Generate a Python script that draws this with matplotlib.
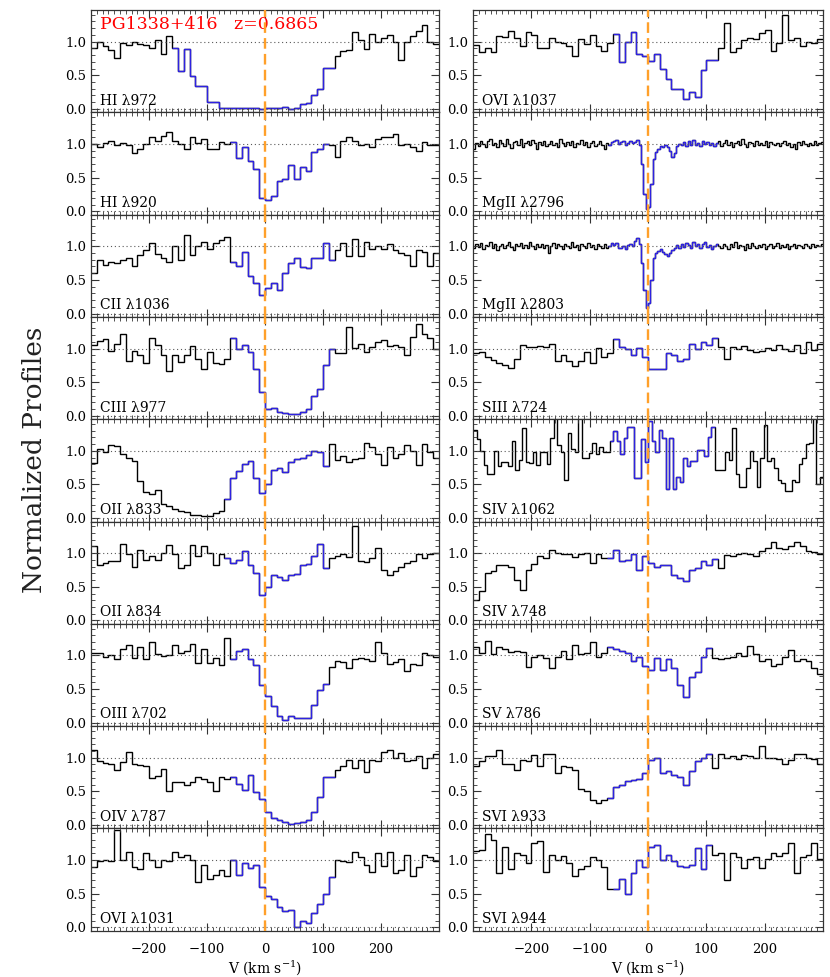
import numpy as np
import matplotlib
matplotlib.use("Agg")
import matplotlib.pyplot as plt
from matplotlib.ticker import MultipleLocator, FixedLocator

plt.rcParams['font.family'] = ['DejaVu Serif']
plt.rcParams['mathtext.fontset'] = 'dejavuserif'

# normalized flux, 10 km/s bins from -300 to 300 (MgII: 4 km/s, SIV 1062: 6 km/s)
hi972 = [0.91, 1.0, 0.93, 0.88, 0.75, 0.98, 0.95, 1.0, 0.97, 0.95,
         0.91, 1.02, 0.81, 1.08, 0.9, 0.57, 0.89, 0.49, 0.34, 0.34,
         0.10, 0.10, 0.02, 0.02, 0.01, 0.02, 0.01, 0.02, 0.01, 0.0,
         0.01, 0.01, 0.02, 0.03, 0.0, 0.01, 0.08, 0.09, 0.2, 0.3,
         0.61, 0.61, 0.79, 0.86, 0.87, 1.14, 1.03, 0.89, 1.11, 1.0,
         1.05, 1.1, 1.0, 0.72, 1.0, 1.08, 1.16, 1.24, 1.0, 0.96]
hi920 = [1.0, 0.95, 1.02, 1.04, 0.98, 1.02, 0.99, 0.87, 0.93, 1.0,
         1.1, 1.05, 1.12, 1.18, 1.05, 1.0, 0.93, 1.11, 1.02, 1.08,
         0.93, 0.93, 1.03, 1.0, 1.03, 0.79, 0.95, 0.75, 0.63, 0.2,
         0.17, 0.23, 0.45, 0.48, 0.68, 0.48, 0.65, 0.6, 0.88, 0.92,
         1.0, 0.98, 0.8, 1.05, 1.1, 1.05, 0.98, 1.0, 0.95, 1.08,
         1.1, 1.1, 1.15, 0.98, 1.0, 0.95, 0.9, 1.03, 0.98, 0.98]
cii1036 = [0.6, 0.8, 0.72, 0.77, 0.75, 0.79, 0.82, 0.7, 0.87, 0.94,
           1.05, 0.88, 0.82, 0.77, 1.0, 0.79, 1.16, 0.87, 1.01, 1.06,
           0.96, 1.05, 1.09, 1.14, 0.77, 0.7, 0.91, 0.56, 0.45, 0.27,
           0.38, 0.45, 0.35, 0.6, 0.75, 0.82, 0.69, 0.68, 0.82, 0.82,
           1.05, 0.8, 0.94, 1.05, 0.85, 1.11, 0.85, 1.06, 0.96, 1.01,
           0.96, 1.04, 0.94, 0.9, 0.87, 0.71, 0.94, 0.91, 0.7, 0.9]
ciii977 = [1.05, 1.11, 1.14, 0.97, 1.07, 1.22, 0.82, 0.97, 0.91, 0.79,
           1.15, 1.05, 0.9, 0.66, 0.9, 0.8, 0.91, 1.04, 0.85, 0.7,
           0.95, 0.79, 0.77, 0.85, 1.15, 1.0, 1.05, 0.95, 0.7, 0.36,
           0.1, 0.12, 0.05, 0.04, 0.03, 0.03, 0.06, 0.1, 0.3, 0.4,
           0.75, 1.0, 0.94, 0.94, 1.32, 1.01, 1.06, 0.95, 1.02, 1.1,
           1.12, 1.04, 1.05, 1.02, 0.9, 1.17, 1.37, 1.21, 1.16, 0.99]
oii833 = [0.82, 1.02, 0.99, 1.09, 1.07, 0.95, 0.9, 0.85, 0.55, 0.39,
          0.36, 0.42, 0.21, 0.18, 0.14, 0.11, 0.09, 0.04, 0.05, 0.03,
          0.03, 0.08, 0.1, 0.29, 0.6, 0.7, 0.8, 0.85, 0.6, 0.37,
          0.5, 0.72, 0.75, 0.69, 0.84, 0.88, 0.89, 0.94, 1.0, 0.98,
          0.77, 1.1, 0.86, 0.93, 0.84, 0.88, 0.9, 1.11, 1.06, 0.95,
          0.79, 1.05, 0.9, 0.95, 1.08, 1.0, 0.79, 1.1, 0.98, 0.9]
oii834 = [1.1, 0.83, 0.85, 0.88, 0.88, 1.13, 0.98, 0.8, 1.05, 0.9,
          0.95, 0.9, 1.0, 1.12, 0.98, 0.78, 0.83, 1.12, 0.95, 1.1,
          1.0, 0.83, 0.99, 0.93, 0.85, 0.9, 1.03, 0.83, 0.7, 0.38,
          0.5, 0.68, 0.64, 0.6, 0.68, 0.69, 0.82, 0.84, 0.95, 1.13,
          0.78, 0.93, 0.95, 0.98, 0.94, 1.4, 0.88, 0.87, 0.93, 1.08,
          0.75, 0.67, 0.73, 0.8, 0.85, 0.88, 0.98, 0.93, 0.98, 1.0]
oiii702 = [1.04, 1.04, 0.98, 1.0, 0.94, 1.1, 1.16, 0.96, 1.12, 0.95,
           1.2, 1.02, 0.99, 1.0, 1.15, 1.03, 1.06, 1.17, 0.89, 1.1,
           0.89, 0.96, 0.86, 1.26, 0.94, 1.07, 1.1, 0.94, 0.86, 0.56,
           0.4, 0.25, 0.1, 0.04, 0.1, 0.07, 0.065, 0.07, 0.26, 0.49,
           0.57, 0.83, 0.92, 0.9, 0.81, 0.95, 0.96, 0.95, 0.92, 1.2,
           1.04, 0.87, 0.9, 0.95, 0.77, 0.87, 0.86, 1.03, 1.01, 0.97]
oiv787 = [1.12, 0.95, 0.92, 0.9, 0.82, 0.93, 1.09, 0.9, 0.89, 0.87,
          0.7, 0.73, 0.84, 0.51, 0.64, 0.64, 0.6, 0.64, 0.72, 0.68,
          0.64, 0.5, 0.71, 0.69, 0.72, 0.61, 0.52, 0.75, 0.49, 0.39,
          0.2, 0.11, 0.08, 0.04, 0.01, 0.03, 0.05, 0.07, 0.2, 0.42,
          0.71, 0.71, 0.82, 0.88, 0.97, 0.85, 0.97, 0.79, 0.97, 0.95,
          1.09, 1.11, 1.0, 1.07, 0.95, 0.96, 1.02, 0.85, 1.0, 1.05]
ovi1031 = [0.9, 0.98, 1.0, 0.99, 1.45, 1.0, 1.12, 0.9, 0.86, 1.1,
           1.0, 0.9, 1.0, 0.98, 1.12, 1.05, 1.07, 1.0, 0.67, 0.92,
           0.72, 0.78, 0.85, 0.77, 1.0, 0.78, 0.95, 0.88, 0.92, 0.6,
           0.47, 0.42, 0.3, 0.25, 0.26, 0.0, 0.09, 0.07, 0.22, 0.35,
           0.5, 0.75, 1.0, 0.99, 0.97, 1.12, 1.05, 0.92, 0.82, 1.1,
           0.91, 1.12, 0.8, 0.85, 1.07, 0.77, 0.9, 1.07, 1.05, 0.98]
ovi1037 = [0.95, 0.85, 0.91, 0.85, 1.09, 1.07, 1.16, 1.05, 0.93, 1.15,
           1.1, 0.9, 0.91, 1.05, 0.99, 0.98, 0.94, 0.79, 1.04, 0.96,
           1.1, 0.94, 0.86, 0.98, 1.12, 0.69, 1.0, 1.15, 0.81, 0.78,
           0.71, 0.81, 0.59, 0.45, 0.29, 0.3, 0.15, 0.25, 0.18, 0.58,
           0.73, 0.73, 0.9, 1.28, 0.85, 0.91, 1.03, 1.05, 1.04, 1.13,
           1.17, 0.86, 0.98, 1.39, 1.03, 1.05, 0.93, 1.0, 0.98, 1.04]
mgii2796 = [0.93, 1.02, 0.97, 1.05, 1.0, 0.96, 1.04, 1.07, 0.98, 1.01,
            0.95, 1.06, 1.02, 0.97, 1.08, 1.0, 0.94, 1.03, 1.05, 0.99,
            1.07, 0.96, 1.02, 1.04, 0.98, 1.06, 1.01, 0.93, 1.03, 0.99,
            1.05, 0.97, 1.0, 1.04, 0.98, 1.02, 0.96, 1.08, 1.01, 0.97,
            1.03, 0.99, 1.05, 0.95, 1.02, 1.0, 1.06, 0.98, 1.03, 0.96,
            1.01, 1.04, 0.97, 1.0, 1.05, 0.98, 0.93, 1.02, 0.99, 1.03,
            1.04, 1.06, 1.0, 1.03, 1.05, 0.99, 1.02, 1.04, 1.01, 1.03,
            1.06, 0.98, 0.7, 0.25, 0.03, 0.06, 0.4, 0.78, 0.88, 0.93,
            0.97, 0.95, 0.98, 0.96, 0.9, 0.8, 0.86, 0.97, 1.0, 0.98,
            1.03, 0.97, 1.05, 0.99, 1.06, 0.98, 1.02, 0.97, 1.04, 1.0,
            1.03, 0.98, 1.02, 0.97, 1.01, 1.04, 0.97, 1.02, 1.06, 0.99,
            1.03, 0.95, 1.01, 1.05, 0.98, 1.07, 1.0, 0.96, 1.03, 1.01,
            0.97, 1.04, 0.99, 1.02, 0.98, 1.05, 0.96, 1.03, 1.0, 0.98,
            1.02, 0.97, 1.01, 1.04, 0.99, 1.02, 0.96, 1.0, 0.93, 1.03,
            0.98, 1.05, 1.0, 0.97, 1.02, 0.99, 1.04, 0.98, 1.01, 1.03]
mgii2803 = [0.97, 1.03, 0.99, 1.05, 0.96, 1.02, 1.0, 1.06, 0.98, 1.03,
            0.94, 1.01, 1.04, 0.97, 1.02, 1.07, 0.99, 0.95, 1.03, 1.0,
            1.05, 0.97, 1.02, 0.98, 1.06, 1.01, 0.96, 1.03, 0.99, 1.04,
            0.98, 1.02, 0.9, 1.01, 1.05, 0.97, 1.03, 1.0, 0.96, 1.04,
            1.01, 0.98, 1.06, 0.99, 1.02, 0.95, 1.03, 1.0, 0.97, 1.05,
            0.99, 1.02, 0.96, 1.04, 1.0, 0.98, 1.03, 0.97, 1.01, 1.05,
            1.02, 1.05, 0.98, 0.97, 1.0, 0.96, 1.02, 1.04, 1.0, 1.08,
            1.12, 1.04, 0.75, 0.35, 0.08, 0.15, 0.5, 0.82, 0.9, 0.93,
            0.96, 0.92, 0.88, 0.85, 0.9, 0.95, 0.98, 1.02, 0.97, 1.04,
            0.99, 1.05, 1.02, 0.98, 1.06, 1.0, 1.04, 0.97, 1.03, 1.07,
            0.99, 1.02, 0.96, 1.0, 1.03, 1.0, 0.97, 1.04, 1.01, 0.96,
            1.03, 0.99, 1.06, 0.98, 1.02, 1.0, 0.95, 1.03, 0.98, 1.05,
            1.01, 0.97, 1.02, 0.99, 1.04, 0.96, 1.01, 1.03, 0.98, 1.0,
            1.05, 0.97, 1.02, 0.99, 1.03, 0.96, 1.01, 1.04, 0.98, 1.02,
            1.0, 0.97, 1.03, 1.01, 0.98, 1.04, 0.99, 1.02, 1.0, 1.03]
siii724 = [0.93, 0.95, 0.88, 0.83, 0.78, 0.75, 0.71, 0.85, 1.05, 1.02,
           1.03, 1.04, 1.02, 1.07, 0.82, 0.9, 0.82, 0.74, 0.81, 0.95,
           0.79, 1.01, 0.88, 0.94, 1.14, 1.02, 0.99, 0.9, 1.01, 0.88,
           0.69, 0.69, 0.7, 0.93, 0.9, 0.82, 0.85, 1.06, 1.0, 1.1,
           1.05, 1.15, 1.02, 0.84, 1.03, 1.0, 1.04, 0.98, 0.95, 0.96,
           1.01, 0.98, 1.05, 1.0, 0.97, 1.05, 0.94, 1.1, 0.98, 1.07]
siv1062 = [1.31, 1.18, 1.0, 0.79, 0.65, 0.65, 1.0, 0.78, 0.84, 0.84,
           0.78, 1.15, 0.72, 0.87, 1.34, 0.84, 0.82, 0.99, 0.79, 0.99,
           0.99, 0.8, 1.19, 1.5, 1.09, 0.99, 0.57, 1.26, 1.02, 0.99,
           1.5, 0.9, 0.9, 0.97, 1.12, 0.95, 1.05, 0.99, 0.99, 1.14,
           1.29, 1.14, 0.95, 1.19, 1.35, 1.35, 0.6, 0.6, 1.18, 0.84,
           1.44, 1.14, 0.99, 1.31, 1.19, 0.44, 1.19, 0.44, 0.61, 0.54,
           0.89, 0.77, 0.85, 0.85, 1.01, 1.01, 0.93, 1.21, 1.36, 0.71,
           0.71, 0.71, 0.99, 0.87, 1.34, 0.65, 0.46, 0.46, 0.75, 1.0,
           0.85, 0.46, 0.89, 1.39, 0.85, 0.89, 0.74, 0.57, 0.52, 0.4,
           0.4, 0.57, 0.54, 0.81, 0.89, 1.1, 1.12, 1.5, 0.5, 0.61]
siv748 = [0.3, 0.43, 0.7, 0.73, 0.83, 0.82, 0.8, 0.6, 0.45, 0.75,
          0.84, 0.95, 0.93, 1.05, 1.0, 0.99, 0.98, 0.94, 0.98, 1.0,
          0.85, 0.98, 0.93, 0.93, 1.05, 0.88, 0.9, 0.98, 0.75, 0.96,
          0.85, 0.8, 0.83, 0.82, 0.68, 0.63, 0.58, 0.75, 0.78, 0.88,
          0.83, 0.92, 0.78, 0.97, 0.95, 0.98, 1.0, 0.98, 0.96, 1.03,
          1.08, 1.16, 1.08, 1.06, 1.1, 1.17, 1.1, 1.03, 1.01, 0.99]
sv786 = [1.12, 1.04, 1.21, 1.02, 1.12, 1.1, 1.05, 1.06, 1.05, 0.83,
         0.98, 1.01, 0.96, 0.82, 0.97, 1.06, 0.94, 1.16, 1.02, 1.04,
         1.2, 0.97, 1.04, 1.12, 1.1, 1.06, 1.04, 0.92, 0.97, 0.85,
         0.79, 0.96, 0.79, 0.94, 0.82, 0.56, 0.38, 0.68, 0.76, 0.98,
         1.11, 0.96, 0.94, 0.96, 0.98, 1.03, 0.99, 1.14, 1.02, 0.92,
         0.95, 0.85, 0.88, 0.97, 1.08, 0.91, 0.94, 0.91, 0.82, 0.73]
svi933 = [0.88, 0.95, 1.02, 1.02, 1.11, 0.91, 0.91, 0.82, 0.97, 0.95,
          1.04, 0.87, 1.05, 1.06, 0.78, 0.87, 0.86, 0.82, 0.54, 0.5,
          0.37, 0.32, 0.37, 0.4, 0.57, 0.6, 0.66, 0.67, 0.68, 0.78,
          0.96, 0.99, 0.78, 0.81, 0.75, 0.72, 0.6, 0.8, 0.95, 1.0,
          1.05, 0.85, 1.05, 1.0, 1.02, 0.98, 1.04, 1.02, 1.0, 1.17,
          1.0, 1.0, 0.98, 0.9, 0.96, 1.06, 1.06, 1.0, 0.98, 0.9]
svi944 = [1.13, 1.15, 1.39, 1.3, 0.8, 1.2, 0.87, 1.1, 1.07, 0.96,
          1.25, 1.28, 0.82, 1.07, 1.0, 1.06, 0.95, 0.76, 0.87, 0.91,
          1.05, 1.0, 0.9, 0.57, 0.57, 0.72, 0.5, 0.8, 1.0, 0.9,
          1.2, 1.23, 1.0, 1.07, 0.98, 0.91, 0.9, 0.93, 1.18, 0.86,
          1.22, 1.08, 1.1, 0.71, 1.1, 1.05, 0.88, 1.02, 1.05, 0.88,
          1.02, 1.1, 1.06, 1.1, 1.25, 0.8, 1.05, 1.07, 1.26, 1.02]

left_names = ["HI λ972", "HI λ920", "CII λ1036", "CIII λ977", "OII λ833",
              "OII λ834", "OIII λ702", "OIV λ787", "OVI λ1031"]
right_names = ["OVI λ1037", "MgII λ2796", "MgII λ2803", "SIII λ724", "SIV λ1062",
               "SIV λ748", "SV λ786", "SVI λ933", "SVI λ944"]
left_flux = [hi972, hi920, cii1036, ciii977, oii833, oii834, oiii702, oiv787, ovi1031]
right_flux = [ovi1037, mgii2796, mgii2803, siii724, siv1062, siv748, sv786, svi933, svi944]
# velocity range of the absorption component (drawn in blue)
left_comp = [(-165, 125), (-60, 115), (-65, 118), (-62, 120), (-69, 115),
             (-68, 110), (-60, 115), (-63, 118), (-62, 120)]
right_comp = [(-64, 120), (-70, 120), (-70, 120), (-64, 120), (-66, 115),
              (-70, 123), (-70, 112), (-67, 115), (-61, 115)]

blueColor = '#2e22e2'
orange = '#ffa02a'
W, H = 830, 977


def drawPanel(ax, flux, comp, label, bottom):
    flux = np.array(flux)
    edges = np.linspace(-300, 300, len(flux) + 1)
    centers = 0.5 * (edges[1:] + edges[:-1])
    ax.axhline(1.0, color='0.35', ls=(0, (1, 2.5)), lw=0.8)
    ax.axhline(0.0, color='0.35', ls=(0, (1, 2.5)), lw=0.8)
    ax.stairs(flux, edges, baseline=None, color='k', lw=1.0)
    sel = np.where((centers > comp[0]) & (centers < comp[1]))[0]
    ax.stairs(flux[sel[0]:sel[-1] + 1], edges[sel[0]:sel[-1] + 2], baseline=None,
              color=blueColor, lw=1.0)
    ax.axvline(0, color=orange, ls=(0, (4.5, 2.2)), lw=1.7, zorder=5)
    ax.set_xlim(-300, 300)
    ax.set_ylim(-0.05, 1.47)
    ax.xaxis.set_major_locator(FixedLocator([-200, -100, 0, 100, 200]))
    ax.xaxis.set_minor_locator(MultipleLocator(10))
    ax.yaxis.set_major_locator(FixedLocator([0.0, 0.5, 1.0]))
    ax.yaxis.set_minor_locator(MultipleLocator(0.1))
    ax.set_yticklabels(['0.0', '0.5', '1.0'])
    ax.tick_params(which='both', direction='in', top=True, right=True, color='0.2')
    ax.tick_params(which='major', length=6, width=0.8, labelsize=9.5)
    ax.tick_params(which='minor', length=3, width=0.6)
    ax.tick_params(axis='x', which='major', pad=9)
    for s in ax.spines.values():
        s.set_color('0.2')
        s.set_linewidth(0.9)
    ax.text(0.026, 0.075, label, transform=ax.transAxes, fontsize=10, va='baseline')
    if bottom:
        ax.set_xlabel(r'V (km s$^{-1}$)', fontsize=10, labelpad=1)
    else:
        ax.tick_params(labelbottom=False)


fig = plt.figure(figsize=(W / 100, H / 100), dpi=100)
rowH = 102.3
for i in range(9):
    y0 = 1 - (10 + rowH * (i + 1)) / H
    axL = fig.add_axes([91 / W, y0, 348 / W, rowH / H])
    drawPanel(axL, left_flux[i], left_comp[i], left_names[i], i == 8)
    axR = fig.add_axes([473 / W, y0, 350 / W, rowH / H])
    drawPanel(axR, right_flux[i], right_comp[i], right_names[i], i == 8)
    if i == 0:
        axL.text(0.026, 0.816, 'PG1338+416   z=0.6865', transform=axL.transAxes,
                 color='red', fontsize=12.5, va='baseline')

fig.text(35 / W, 1 - 460 / H, 'Normalized Profiles', rotation=90, fontsize=19,
         ha='center', va='center', color='#222222')

fig.savefig('out.png', dpi=100)
